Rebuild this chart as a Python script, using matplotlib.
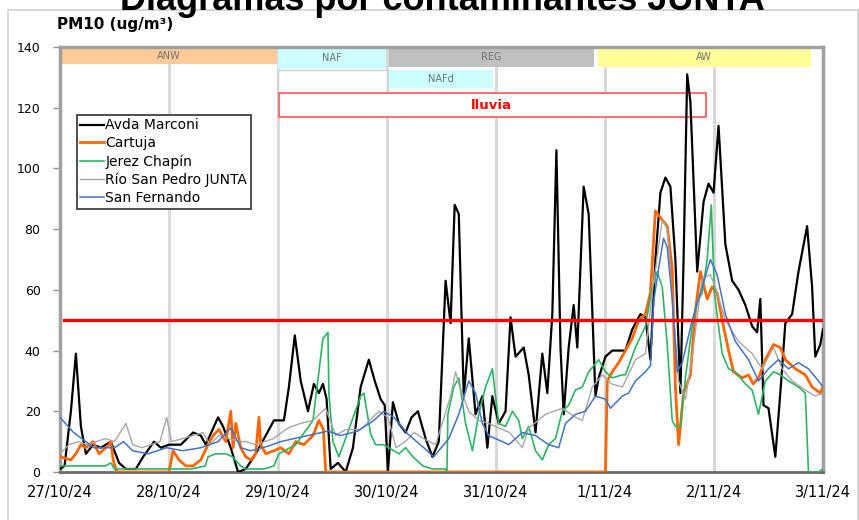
import matplotlib
matplotlib.use("Agg")
import matplotlib.pyplot as plt
from matplotlib.patches import Rectangle

# hours since 27/10/24 00:00 and PM10 values (ug/m3)
marconi_h = [0, 1, 2.4, 3.5, 4.6, 5.7, 7.3, 9, 11.2, 13, 14.5, 16.7, 18.3, 20.7, 22.2, 24,
             26.6, 29.3, 31, 32.1, 34.8, 35.9, 37.6, 39.2, 40.9, 43.1, 45.3, 47.1, 49.3, 50.4,
             51.7, 53, 54.6, 55.9, 57, 57.9, 58.7, 59.6, 61.2, 62.9, 64.5, 66.2, 68, 69.3, 70.6,
             71.5, 72.2, 73.3, 74.6, 76.1, 77.4, 78.8, 80.5, 82, 83.4, 84.9, 86, 86.9, 87.8,
             88.9, 90, 91.5, 93, 94.1, 95.2, 96.6, 98.1, 99.2, 100.3, 102.1, 103.2, 104.7,
             106.2, 107.3, 108.4, 109.3, 110.2, 110.9, 112, 113.1, 113.9, 115.3, 116.4, 117.9,
             118.6, 120.1, 121.6, 124.5, 126, 127.8, 128.9, 130, 131.1, 132.2, 133.3, 134.4,
             135.5, 136.6, 137.3, 138.1, 138.8, 140.3, 141.7, 142.8, 143.9, 145, 146.5, 148,
             149.4, 150.9, 152.4, 153.5, 154.2, 154.9, 156, 157.5, 158.6, 159.7, 161.2, 162.6,
             164.5, 165.6, 166.3, 167.4, 168]
marconi_v = [1, 2, 20, 39, 15, 6, 9, 8, 10, 3, 1, 1, 5, 10, 8, 9,
             9, 13, 12, 9, 18, 15, 8, 0, 1, 6, 12, 17, 17, 28,
             45, 30, 20, 29, 26, 29, 24, 1, 3, 0, 8, 28, 37, 30, 24,
             22, 0, 23, 16, 13, 18, 20, 11, 5, 10, 63, 49, 88, 85,
             25, 44, 19, 25, 8, 25, 16, 20, 51, 38, 41, 32, 13,
             39, 26, 52, 106, 41, 19, 41, 55, 41, 94, 85, 25,
             31, 38, 40, 40, 47, 52, 51, 37, 70, 92, 97, 94,
             70, 26, 70, 131, 122, 66, 89, 95, 92, 114, 75, 63,
             60, 55, 48, 46, 57, 22, 21, 5, 26, 49, 52, 66,
             81, 61, 38, 42, 47]

cartuja_h = [0, 2.4, 3.5, 4.6, 5.7, 7.3, 8.6, 10.8, 11.2, 11.7, 12.5, 24, 24.9, 26.2, 27.7,
             29.3, 31, 32.6, 33.7, 35, 36.5, 37.6, 38.1, 38.7, 39.8, 40.9, 42, 43.1, 43.8,
             44.2, 45.3, 47.1, 48.6, 50.4, 51.9, 53.7, 55.7, 57, 58, 58.5, 120.1, 120.5,
             121.6, 123, 124.5, 126, 127.4, 128.9, 130, 131.1, 132.6, 133.7, 134.8, 135.5,
             136.2, 137.3, 138.8, 139.9, 141, 142.5, 143.6, 144.7, 145.8, 147.2, 148.3,
             150.2, 151.6, 152.6, 153.8, 155.3, 157.1, 158.6, 159.7, 161.9, 164.1, 165.6,
             167.4, 168]
cartuja_v = [5, 4, 6, 9, 8, 10, 6, 9, 10, 4, 0, 0, 7, 4, 2,
             2, 4, 9, 12, 14, 10, 20, 8, 16, 8, 5, 4, 6, 18,
             9, 6, 7, 8, 6, 10, 9, 12, 17, 14, 0, 0, 30,
             33, 36, 40, 44, 50, 52, 59, 86, 83, 81, 67, 28,
             9, 26, 32, 53, 66, 57, 61, 59, 50, 40, 33,
             31, 32, 29, 31, 37, 42, 41, 37, 34, 32, 28,
             26, 28]

jerez_h = [0, 5, 10, 11.2, 12, 24, 29, 32, 32.6, 34.3, 36.5, 38, 39.8, 40.9, 45, 47.1, 48.2,
           51.9, 55.7, 57.9, 59, 59.2, 60.1, 61.4, 63.6, 66.2, 66.9, 68.4, 69.5, 71.1, 72.4,
           74.6, 76.1, 77.7, 79.9, 82, 84.9, 85.2, 85.4, 86.7, 87.8, 89.3, 90.8, 92.2, 93.7,
           95.2, 96.6, 98.1, 99.6, 101, 101.8, 103.2, 104.7, 106.2, 107.6, 109.1, 110.6, 112,
           113.5, 115, 116.4, 118.6, 120.1, 121.6, 123.8, 124.5, 126.7, 128.9, 130.4, 131.5,
           132.6, 133.7, 134.8, 135.5, 136.6, 137.7, 139.2, 140.3, 141.4, 142.5, 143.4, 144.1,
           145, 145.8, 147.2, 148.7, 150.9, 152.4, 153.8, 155.3, 157.1, 158.6, 160.4, 162.6,
           164.1, 164.8, 167, 168]
jerez_v = [2, 2, 2, 3, 1, 1, 1, 2, 5, 6, 6, 5, 2, 1, 1, 2, 6,
           9, 17, 44, 46, 26, 10, 5, 14, 25, 26, 12.5, 9, 9, 8,
           6, 8, 5, 2, 1, 1, 0, 19, 28, 31, 16, 7, 19, 28,
           34, 16, 15, 20, 17, 11, 15, 7, 4, 9, 11, 20, 22,
           27, 28, 33, 37, 33, 31, 32, 32, 41, 48, 61, 66,
           61, 42, 17, 15, 15, 31, 48, 56, 59, 70, 88, 59,
           48, 39, 34, 33, 29, 27, 19, 30, 33, 32, 30, 28,
           26, 0, 0, 1]

rio_h = [0, 2, 4, 6, 8, 10, 12, 14.5, 16, 18, 20, 22, 23.5, 24.5, 27, 29.3, 31.5, 33, 35,
         37, 39.8, 41, 43, 45, 47, 49.7, 51, 53, 55.7, 58.5, 60.7, 62.9, 66.2, 70.2, 72.2,
         74, 76, 78, 80, 82.7, 86, 87.1, 87.8, 90, 92.2, 94.4, 97.4, 99, 101.8, 103.2,
         106.9, 110.6, 113.5, 115, 117.2, 119.4, 121.5, 123.8, 124.5, 126.7, 128.9, 130.4,
         132.6, 133.7, 136.2, 137.7, 139.2, 141.4, 143.2, 144.3, 146.5, 149.4, 152.4, 154.6,
         157.1, 159, 161.2, 164.1, 166.3, 168]
rio_v = [6, 9, 10, 9, 10, 11, 10, 16, 9, 8, 9, 10, 18, 10, 11, 12, 13, 9, 12,
         11, 10, 10, 9, 10, 11, 14, 15, 16, 17, 21, 12, 14, 14, 20, 18,
         8, 10, 13, 11, 9, 25, 33, 29, 20, 17, 16, 14, 13, 8, 14.5,
         19, 21, 18, 17, 28, 32, 29, 28, 30, 37, 39, 59,
         83, 80, 30, 24, 38, 64, 65, 61, 50, 43, 39, 34,
         41, 34, 30, 27, 25, 26]

sanfer_h = [0, 3, 7.5, 12, 14, 16, 19.4, 23.5, 27, 31, 34.8, 37.6, 39.8, 42, 45.8, 48.6,
            51.5, 54.6, 59, 61.8, 65.6, 69.1, 71.3, 73.5, 76.6, 80.1, 82.3, 85.6, 87.8, 90,
            91.5, 93, 94.4, 97.4, 98.8, 101.8, 104.7, 107.6, 109.8, 111.3, 113.5, 115.7,
            117.9, 120.1, 121.2, 123.8, 125.2, 126.7, 128.9, 130, 130.7, 131.8, 132.9, 133.7,
            134.8, 135.9, 137, 139.2, 141.4, 143.2, 144.7, 146.5, 148.7, 151.6, 153.8, 156,
            158.2, 160.4, 162.6, 164.8, 167, 168]
sanfer_v = [18, 13, 8, 8, 10, 7, 6, 8, 7, 8, 10, 14.5, 8, 7, 8.5, 10,
            11, 12, 13.5, 12, 13.5, 17, 20, 18, 12.5, 8, 5, 11, 19, 30,
            26, 16, 12, 10, 9, 13, 12, 9, 8, 16, 19, 20,
            25, 24, 21, 25, 26, 30, 33, 35, 56, 67, 77, 74,
            57, 33, 36, 50, 61, 70, 65, 52, 43, 37, 30, 34,
            37, 34, 36, 34, 30, 28]

series_names = ["Avda Marconi", "Cartuja", "Jerez Chapín", "Río San Pedro JUNTA", "San Fernando"]
series_h = [marconi_h, cartuja_h, jerez_h, rio_h, sanfer_h]
series_v = [marconi_v, cartuja_v, jerez_v, rio_v, sanfer_v]
colors = ["#000000", "#FF6600", "#2DB563", "#A6A6A6", "#4472C4"]
widths = [1.6, 2.0, 1.2, 1.0, 1.1]

day_labels = ["27/10/24", "28/10/24", "29/10/24", "30/10/24", "31/10/24",
              "1/11/24", "2/11/24", "3/11/24"]
limit = 50

# episode bands: (label, start h, end h, bottom, top, colour)
bands = [("ANW", 0.4, 47.7, 134.3, 140, "#FFCC99"),
         ("NAF", 48.0, 71.7, 132.7, 140, "#CCFFFF"),
         ("REG", 72.4, 117.5, 133.4, 140, "#C0C0C0"),
         ("NAFd", 72.4, 95.3, 126.4, 132.3, "#CCFFFF"),
         ("AW", 118.4, 165.3, 133.4, 140, "#FFFF99")]
rain = ("lluvia", 48.2, 142.3, 116.8, 124.8)

fig = plt.figure(figsize=(8.59, 5.2), dpi=100)
ax = fig.add_axes([60 / 859, 1 - 472 / 520, 763 / 859, 425 / 520])

# outer chart-area frame
fig.patches.append(Rectangle((8 / 859, -0.05), 850 / 859, 1.05 - 10 / 520,
                             transform=fig.transFigure, fill=False,
                             edgecolor="#D0D0D0", linewidth=1.2))

for name, h, v, c, w in zip(series_names, series_h, series_v, colors, widths):
    ax.plot(h, v, color=c, linewidth=w, label=name, zorder=3)

ax.axhline(limit, xmin=0.005, color="#FF0000", linewidth=2.4, zorder=4)

for label, x0, x1, y0, y1, col in bands:
    ax.add_patch(Rectangle((x0, y0), x1 - x0, y1 - y0, facecolor=col,
                           edgecolor="none", zorder=2))
    ax.text((x0 + x1) / 2, (y0 + y1) / 2, label, ha="center", va="center",
            fontsize=7, color="#707070", zorder=2.5)

# empty box under NAF
ax.add_patch(Rectangle((48.0, 124.8), 23.9, 7.5, facecolor="white",
                       edgecolor="#D0D0D0", linewidth=1, zorder=2))

label, x0, x1, y0, y1 = rain
ax.add_patch(Rectangle((x0, y0), x1 - x0, y1 - y0, facecolor="white",
                       edgecolor="#FF7070", linewidth=1.5, zorder=2))
ax.text(95.0, (y0 + y1) / 2, label, ha="center", va="center", fontsize=9.5,
        fontweight="bold", color="#FF0000", zorder=2.5)

ax.set_xlim(0, 168)
ax.set_ylim(0, 140)
ax.set_xticks(range(0, 169, 24))
ax.set_xticklabels(day_labels)
ax.set_yticks(range(0, 141, 20))
ax.tick_params(axis="x", length=0, pad=9, labelsize=10.5)
ax.tick_params(axis="y", length=5, width=1, color="#909090", pad=9, labelsize=9)
ax.grid(axis="x", color="#D9D9D9", linewidth=2.2, zorder=1)
ax.set_axisbelow(True)
for side in ["left", "top", "right"]:
    ax.spines[side].set_color("#A0A0A0")
    ax.spines[side].set_linewidth(2.5)
ax.spines["bottom"].set_color("#6A6A6A")
ax.spines["bottom"].set_linewidth(2)

leg = ax.legend(loc="upper left", bbox_to_anchor=(77 / 859, 1 - 115 / 520),
                bbox_transform=fig.transFigure, borderaxespad=0, fancybox=False,
                framealpha=1, edgecolor="#404040", fontsize=10, handlelength=1.7,
                handletextpad=0.1, labelspacing=0.28, borderpad=0.25)
leg.get_frame().set_linewidth(1.3)
leg.set_zorder(5)

fig.text(57 / 859, 1 - 25 / 520, "PM10 (ug/m³)", fontsize=11, fontweight="bold",
         ha="left", va="center")
# title is clipped by the top edge, as in the original screenshot
fig.text(442 / 859, 1 - 10 / 520, "Diagramas por contaminantes JUNTA",
         fontsize=26, fontweight="bold", family="Liberation Sans",
         ha="center", va="baseline")

plt.savefig("out.png", dpi=100)
